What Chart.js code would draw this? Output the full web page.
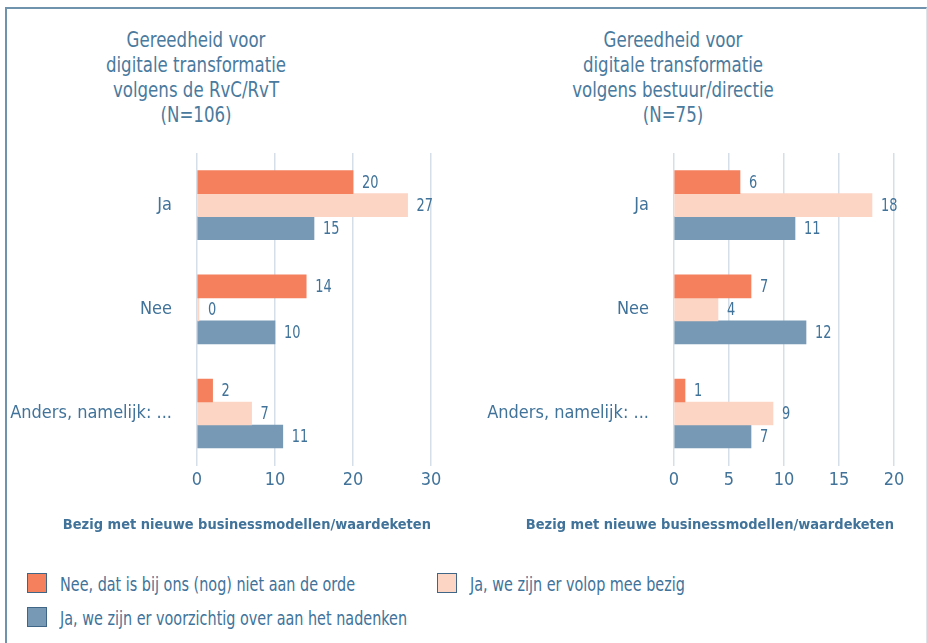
<!DOCTYPE html>
<html>
<head>
<meta charset="utf-8">
<script src="https://cdn.jsdelivr.net/npm/chart.js@4.4.1/dist/chart.umd.min.js"></script>
<style>
  body { margin: 0; background: #fff; width: 927px; height: 643px; position: relative; overflow: hidden;
         font-family: "DejaVu Sans Condensed", "DejaVu Sans", sans-serif; color: #41739a; }
  .frame { position: absolute; left: 5px; top: 7px; width: 919px; height: 700px;
           border-left: 2px solid #6f92ad; border-top: 2px solid #6f92ad; border-right: 1px solid #dde4ea; }
  .title { position: absolute; top: 28px; width: 400px; text-align: center; font-size: 21px; line-height: 25px;
           color: #4a7a9d; transform: scaleX(0.88); transform-origin: center top; }
  canvas { position: absolute; }
  .legend { position: absolute; font-size: 20px; color: #41739a; white-space: nowrap; }
  .legend span.box { position: absolute; left: 0; top: 0; width: 18px; height: 18px; border: 1px solid #3f6686; }
  .legend span.txt { position: absolute; left: 33px; top: 0; line-height: 22px; transform: scaleX(0.8); transform-origin: left center; }
</style>
</head>
<body>
<div class="frame"></div>
<div class="title" style="left:-4px">Gereedheid voor<br>digitale transformatie<br>volgens de RvC/RvT<br>(N=106)</div>
<div class="title" style="left:473px">Gereedheid voor<br>digitale transformatie<br>volgens bestuur/directie<br>(N=75)</div>
<canvas id="left" width="460" height="400" style="left:0;top:140px"></canvas>
<canvas id="right" width="467" height="400" style="left:460px;top:140px"></canvas>

<div class="legend" style="left:27px;top:573px"><span class="box" style="background:#f4805e"></span><span class="txt">Nee, dat is bij ons (nog) niet aan de orde</span></div>
<div class="legend" style="left:437px;top:573px"><span class="box" style="background:#fdd5c5"></span><span class="txt">Ja, we zijn er volop mee bezig</span></div>
<div class="legend" style="left:27px;top:607px"><span class="box" style="background:#7799b5"></span><span class="txt">Ja, we zijn er voorzichtig over aan het nadenken</span></div>

<script>
const categories = ['Ja', 'Nee', 'Anders, namelijk: ...'];
const seriesNames = ['Nee, dat is bij ons (nog) niet aan de orde', 'Ja, we zijn er volop mee bezig', 'Ja, we zijn er voorzichtig over aan het nadenken'];

// RvC/RvT (N=106)
const rvcNee = [20, 14, 2];
const rvcVolop = [27, 0, 7];
const rvcVoorzichtig = [15, 10, 11];

// bestuur/directie (N=75)
const bestuurNee = [6, 7, 1];
const bestuurVolop = [18, 4, 9];
const bestuurVoorzichtig = [11, 12, 7];

const axisTitle = 'Bezig met nieuwe businessmodellen/waardeketen';

const colors = ['#f4805e', '#fdd5c5', '#7799b5'];
const textColor = '#41739a';
const fontFamily = '"DejaVu Sans Condensed", "DejaVu Sans", sans-serif';

// value labels next to each bar (slightly narrowed like the original)
const valueLabels = {
    id: 'valueLabels',
    afterDatasetsDraw(chart) {
        const ctx = chart.ctx;
        ctx.save();
        ctx.font = '18px ' + fontFamily;
        ctx.fillStyle = textColor;
        ctx.textAlign = 'left';
        ctx.textBaseline = 'middle';
        chart.data.datasets.forEach((ds, i) => {
            chart.getDatasetMeta(i).data.forEach((bar, j) => {
                ctx.save();
                ctx.translate(bar.x + 9, bar.y + 1);
                ctx.scale(0.8, 1);
                ctx.fillText(ds.data[j], 0, 0);
                ctx.restore();
            });
        });
        ctx.restore();
    }
};

function makeChart(id, nee, volop, voorzichtig, max, step, yWidth, padRight) {
    const data = [nee, volop, voorzichtig];
    return new Chart(document.getElementById(id), {
        type: 'bar',
        data: {
            labels: categories,
            datasets: data.map((d, i) => ({
                label: seriesNames[i],
                data: d,
                backgroundColor: colors[i],
                borderWidth: 0,
                barThickness: 23,
                minBarLength: i === 1 ? 2 : 0
            }))
        },
        options: {
            indexAxis: 'y',
            responsive: false,
            animation: false,
            devicePixelRatio: 1,
            layout: { padding: { top: 13, right: padRight, left: 0, bottom: 0 } },
            plugins: {
                legend: { display: false },
                tooltip: { enabled: false },
                title: {
                    display: true,
                    position: 'bottom',
                    align: 'end',
                    text: axisTitle,
                    color: textColor,
                    font: { family: fontFamily, size: 14.5, weight: 'bold' },
                    padding: { top: 0, bottom: 6 }
                }
            },
            scales: {
                x: {
                    min: 0,
                    max: max,
                    ticks: { stepSize: step, color: textColor, padding: 4, font: { family: fontFamily, size: 18 } },
                    grid: { color: '#d6dfe8', lineWidth: 1.5, drawTicks: false },
                    border: { display: false },
                    afterFit(scale) { scale.height = 51; }
                },
                y: {
                    ticks: { color: textColor, padding: 25, font: { family: fontFamily, size: 18 } },
                    grid: { display: false, drawTicks: false },
                    border: { display: false },
                    afterFit(scale) {
                        scale.width = yWidth;
                        scale.paddingTop = 0;
                        scale.paddingBottom = 0;
                    }
                }
            }
        },
        plugins: [valueLabels]
    });
}

makeChart('left', rvcNee, rvcVolop, rvcVoorzichtig, 30, 10, 197, 29);
makeChart('right', bestuurNee, bestuurVolop, bestuurVoorzichtig, 20, 5, 214, 33);
</script>
</body>
</html>
